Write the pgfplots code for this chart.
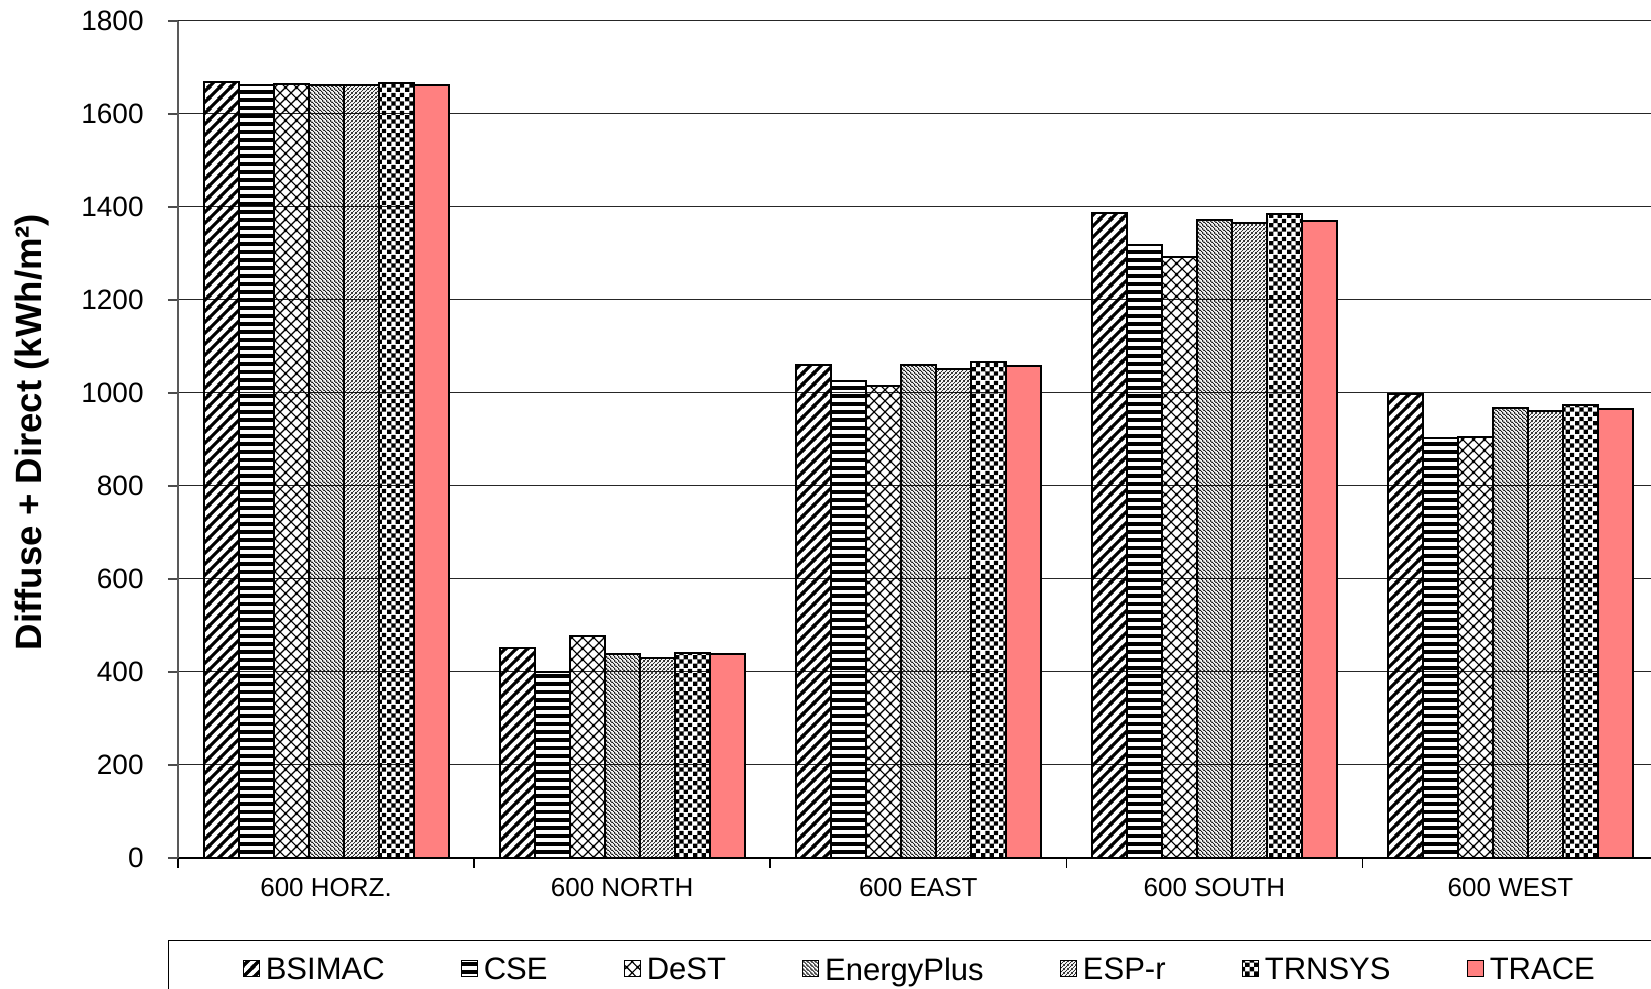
\documentclass[border=0pt]{standalone}
\usepackage{fontspec}
\setmainfont{Liberation Sans}
\usepackage{pgfplots}
\pgfplotsset{compat=1.18}
\usetikzlibrary{patterns.meta}

\tikzdeclarepattern{name=bsimac, type=uncolored,
  bottom left={(0pt,0pt)}, top right={(5.5pt,5.5pt)}, tile size={(5.5pt,5.5pt)},
  code={\draw[line width=1.7pt] (-5.5pt,-5.5pt)--(11pt,11pt) (0pt,-5.5pt)--(11pt,5.5pt) (-5.5pt,0pt)--(5.5pt,11pt);}}
\tikzdeclarepattern{name=cse, type=uncolored,
  bottom left={(0pt,0pt)}, top right={(30pt,3.75pt)}, tile size={(30pt,3.75pt)},
  code={\fill (-1pt,0pt) rectangle (31pt,2pt);}}
\tikzdeclarepattern{name=dest, type=uncolored,
  bottom left={(0pt,0pt)}, top right={(5.5pt,5.5pt)}, tile size={(5.5pt,5.5pt)},
  code={\draw[line width=0.6pt] (-5.5pt,-5.5pt)--(11pt,11pt) (0pt,-5.5pt)--(11pt,5.5pt) (-5.5pt,0pt)--(5.5pt,11pt)
     (-5.5pt,11pt)--(11pt,-5.5pt) (-5.5pt,5.5pt)--(5.5pt,-5.5pt) (0pt,11pt)--(11pt,0pt);}}
\tikzdeclarepattern{name=eplus, type=uncolored,
  bottom left={(0pt,0pt)}, top right={(2pt,2pt)}, tile size={(2pt,2pt)},
  code={\draw[line width=0.42pt] (-2pt,4pt)--(4pt,-2pt) (-2pt,2pt)--(2pt,-2pt) (0pt,4pt)--(4pt,0pt);}}
\tikzdeclarepattern{name=espr, type=uncolored,
  bottom left={(0pt,0pt)}, top right={(2pt,2pt)}, tile size={(2pt,2pt)},
  code={\draw[line width=0.36pt] (-2pt,-2pt)--(4pt,4pt) (0pt,-2pt)--(4pt,2pt) (-2pt,0pt)--(2pt,4pt);}}
\tikzdeclarepattern{name=trnsys, type=uncolored,
  bottom left={(0pt,0pt)}, top right={(8.8pt,8.8pt)}, tile size={(8.8pt,8.8pt)},
  code={\fill (0pt,0pt) rectangle (2.2pt,2.2pt) (4.4pt,0pt) rectangle (6.6pt,2.2pt)
              (2.2pt,2.2pt) rectangle (4.4pt,4.4pt) (6.6pt,2.2pt) rectangle (8.8pt,4.4pt)
              (0pt,4.4pt) rectangle (2.2pt,6.6pt) (4.4pt,4.4pt) rectangle (6.6pt,6.6pt)
              (2.2pt,6.6pt) rectangle (4.4pt,8.8pt) (6.6pt,6.6pt) rectangle (8.8pt,8.8pt);}}

\definecolor{trace}{RGB}{255,128,128}

\begin{document}
\begin{tikzpicture}
\begin{axis}[
  name=ax,
  width=740.3pt, height=418.5pt, scale only axis,
  xmin=-0.5, xmax=4.5, ymin=0, ymax=1800,
  ytick={0,200,...,1800},
  xtick={0,1,2,3,4},
  xticklabels={600 HORZ.,600 NORTH,600 EAST,600 SOUTH,600 WEST},
  minor xtick={-0.5,0.5,1.5,2.5,3.5,4.5},
  xtick style={draw=none},
  minor x tick style={draw=black, line width=0.8pt},
  minor tick length=5pt,
  major tick length=5pt,
  ytick style={draw=black!70, line width=0.8pt},
  tick align=outside,
  axis x line*=bottom, axis y line*=left,
  x axis line style={black, line width=0.8pt, -},
  y axis line style={black!65, line width=1pt, -},
  ymajorgrids,
  major grid style={black!85, line width=0.5pt},
  /pgf/number format/assume math mode=true,
  /pgf/number format/1000 sep={},
  yticklabel style={font=\fontsize{14}{16}\selectfont, inner sep=0pt, xshift=-12pt},
  xticklabel style={font=\fontsize{13}{15}\selectfont, inner sep=0pt, yshift=-5pt},
  ylabel={Diffuse + Direct (kWh/m²)},
  ylabel style={at={(axis description cs:-0.0983,0.509)}, anchor=center, font=\bfseries\fontsize{18.3}{21}\selectfont},
  ybar=0pt, bar width=17.5pt,
  legend columns=7,
  legend image code/.code={\draw[#1,line width=0.6pt] (0pt,-4pt) rectangle (8pt,4pt);},
  legend style={at={(axis description cs:0,0)}, anchor=north west, xshift=-5pt, yshift=-41pt,
    draw=black, line width=0.6pt, inner xsep=37pt, inner ysep=8.5pt,
    font=\fontsize{15.5}{18}\selectfont, nodes={inner sep=0pt, text depth=0pt},
    /tikz/every odd column/.style={column sep=3pt},
    /tikz/every even column/.style={column sep=38pt}},
]
\addplot[draw=black, line width=1pt, pattern=bsimac] coordinates {(0,1668) (1,452) (2,1060) (3,1388) (4,998)};
\addplot[draw=black, line width=1pt, pattern=cse] coordinates {(0,1662) (1,399) (2,1026) (3,1318) (4,904)};
\addplot[draw=black, line width=1pt, pattern=dest] coordinates {(0,1665) (1,477) (2,1016) (3,1292) (4,906)};
\addplot[draw=black, line width=1pt, pattern=eplus] coordinates {(0,1663) (1,438) (2,1060) (3,1371) (4,968)};
\addplot[draw=black, line width=1pt, pattern=espr] coordinates {(0,1663) (1,431) (2,1051) (3,1365) (4,961)};
\addplot[draw=black, line width=1pt, pattern=trnsys] coordinates {(0,1667) (1,440) (2,1067) (3,1385) (4,975)};
\addplot[draw=black, line width=1pt, fill=trace] coordinates {(0,1662) (1,438) (2,1059) (3,1369) (4,966)};
\legend{BSIMAC,CSE,DeST,EnergyPlus,ESP-r,TRNSYS,TRACE}
\end{axis}
\pgfresetboundingbox
\path[use as bounding box] ([shift={(-89pt,-65.5pt)}]ax.south west) rectangle ++(825.5pt,494.5pt);
\end{tikzpicture}
\end{document}
